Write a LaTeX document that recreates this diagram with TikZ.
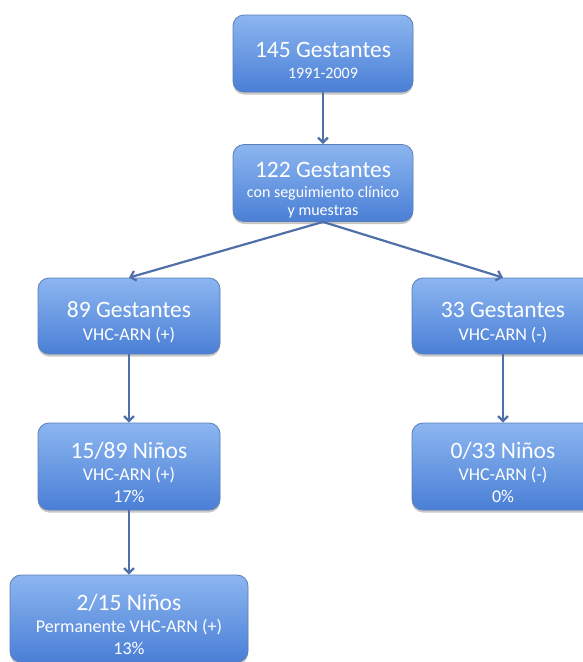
\documentclass[tikz,border=0pt]{standalone}
\usepackage{fontspec}
\setmainfont{Carlito}
\usetikzlibrary{arrows.meta,shadows}
\definecolor{boxtop}{HTML}{8CB6F0}
\definecolor{boxbot}{HTML}{4A7FD6}
\definecolor{boxline}{HTML}{5B7FB8}
\definecolor{arrowc}{HTML}{4F70A8}
\newcommand{\ttl}{\fontsize{23.5}{26}\selectfont\rule{0pt}{29pt}}
\tikzset{
  flowbox/.style={draw=boxline, line width=0.8pt, rounded corners=11pt,
    top color=boxtop, bottom color=boxbot, text=white, align=center,
    inner sep=0pt, drop shadow={shadow xshift=0pt, shadow yshift=-2.5pt, opacity=0.22, fill=black}},
  subbig/.style={font=\fontsize{18}{22}\selectfont},
  subsmall/.style={font=\fontsize{16}{17.5}\selectfont},
  flowarrow/.style={draw=arrowc, line width=2.2pt, -{Straight Barb[length=5pt,width=10pt,line width=2.2pt]}}
}
\begin{document}
\begin{tikzpicture}[x=1pt,y=-1pt]
\useasboundingbox (0,0) rectangle (583,662);
\node[flowbox, subsmall, minimum width=180pt, minimum height=77pt] (b1) at (323,53.5)
  {\ttl 145 Gestantes\\[3pt] 1991-2009};
\node[flowbox, subsmall, minimum width=180pt, minimum height=77pt] (b2) at (323,183)
  {\ttl 122 Gestantes\\[3pt] con seguimiento clínico\\ y muestras};
\node[flowbox, subbig, minimum width=182pt, minimum height=76pt] (b3) at (129,316)
  {\ttl 89 Gestantes\\[1pt] VHC-ARN (+)};
\node[flowbox, subbig, minimum width=182pt, minimum height=76pt] (b4) at (503,316)
  {\ttl 33 Gestantes\\[1pt] VHC-ARN (-)};
\node[flowbox, subbig, minimum width=182pt, minimum height=87pt] (b5) at (129,466.5)
  {\ttl 15/89 Niños\\[0pt] VHC-ARN (+)\\ 17\%};
\node[flowbox, subbig, minimum width=182pt, minimum height=87pt] (b6) at (503,466.5)
  {\ttl 0/33 Niños\\[0pt] VHC-ARN (-)\\ 0\%};
\node[flowbox, subbig, minimum width=238pt, minimum height=87pt] (b7) at (129,618.5)
  {\ttl 2/15 Niños\\[0pt] Permanente VHC-ARN (+)\\ 13\%};
\draw[flowarrow] (b1.south) -- (b2.north);
\draw[flowarrow] (b2.south) -- (b3.north);
\draw[flowarrow] (b2.south) -- (b4.north);
\draw[flowarrow] (b3.south) -- (b5.north);
\draw[flowarrow] (b4.south) -- (b6.north);
\draw[flowarrow] (b5.south) -- (b7.north);
\end{tikzpicture}
\end{document}
